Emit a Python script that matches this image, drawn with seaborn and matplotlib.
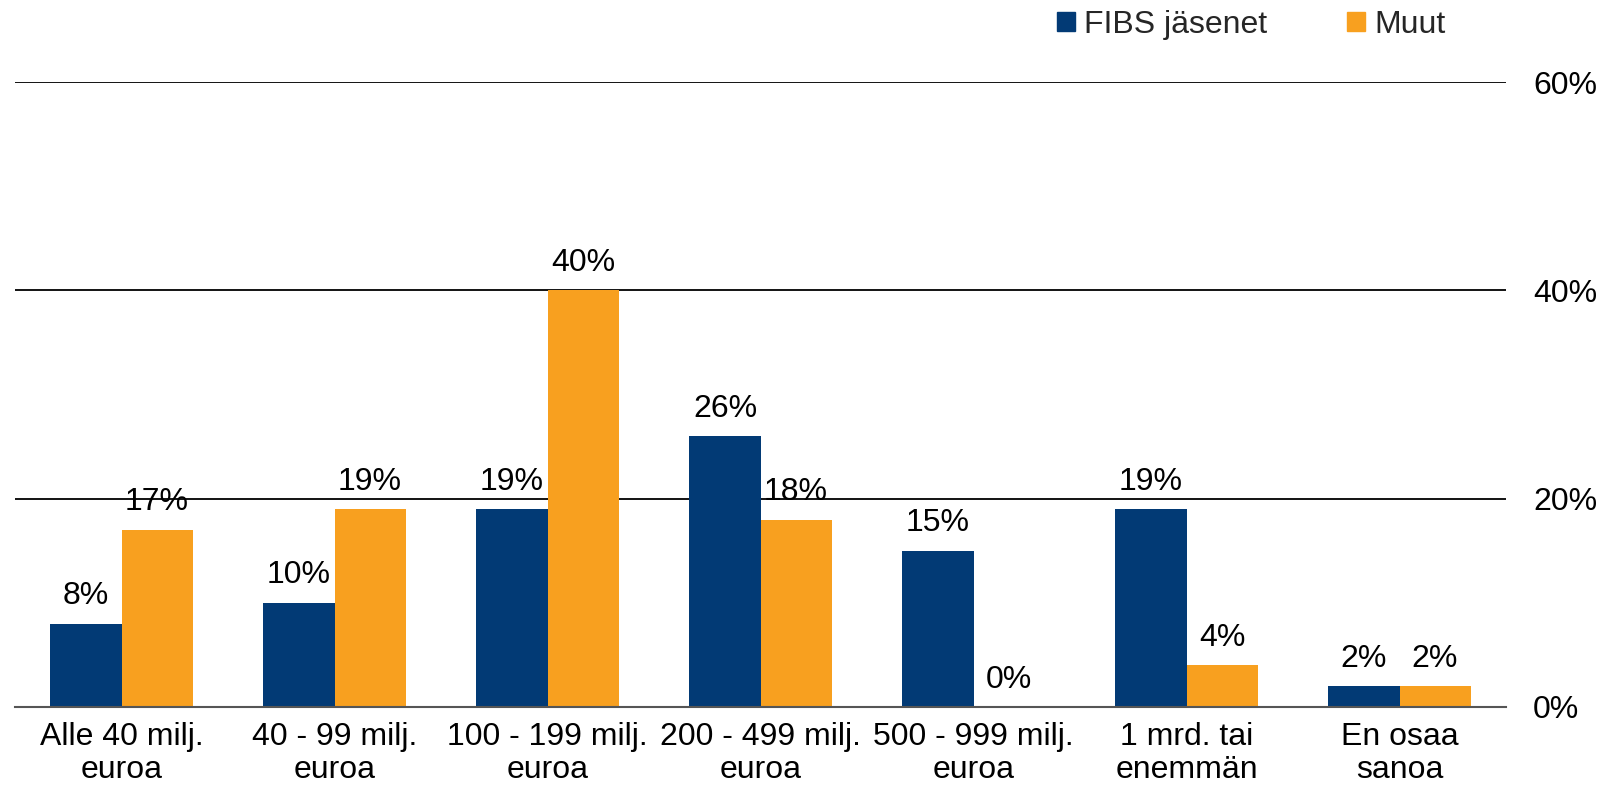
import matplotlib
matplotlib.use("Agg")
import matplotlib.pyplot as plt
import seaborn as sns
import pandas as pd
from matplotlib.ticker import FixedLocator, FuncFormatter
from matplotlib.patches import Rectangle

categories = ["Alle 40 milj.\neuroa", "40 - 99 milj.\neuroa", "100 - 199 milj.\neuroa",
              "200 - 499 milj.\neuroa", "500 - 999 milj.\neuroa", "1 mrd. tai\nenemmän",
              "En osaa\nsanoa"]
series_names = ["FIBS jäsenet", "Muut"]
fibs = [8, 10, 19, 26, 15, 19, 2]
muut = [17, 19, 40, 18, 0, 4, 2]
yticks = [0, 20, 40, 60]
colors = ["#023A75", "#F8A01F"]

df = pd.DataFrame({
    "cat": categories * 2,
    "series": [series_names[0]] * len(categories) + [series_names[1]] * len(categories),
    "value": fibs + muut,
})

sns.set_theme(style="white")
plt.rcParams["font.family"] = ["Liberation Sans", "DejaVu Sans"]
FS = 23

fig = plt.figure(figsize=(16.03, 7.88), dpi=100)
ax = fig.add_axes([15 / 1603, 1 - 707 / 788, (1506 - 15) / 1603, (707 - 82) / 788])

sns.barplot(data=df, x="cat", y="value", hue="series", order=categories,
            hue_order=series_names, palette=colors, width=0.667, gap=0,
            saturation=1, ax=ax, legend=False, linewidth=0)

ax.set_ylim(0, 60)
ax.set_xlim(-0.5, len(categories) - 0.5)
ax.yaxis.set_major_locator(FixedLocator(yticks))
ax.yaxis.set_major_formatter(FuncFormatter(lambda v, p: f"{v:.0f}%"))
ax.yaxis.tick_right()
ax.tick_params(axis="y", length=0, pad=19.5, labelsize=FS, colors="black")
for lbl in ax.get_yticklabels():
    lbl.set_horizontalalignment("left")
ax.tick_params(axis="x", length=0, pad=10.5, labelsize=FS, colors="black")
for lbl in ax.get_xticklabels():
    lbl.set_linespacing(1.15)
ax.set_xlabel("")
ax.set_ylabel("")
for y in yticks[1:]:
    ax.axhline(y, color="black", lw=1.3, zorder=0)
for s in ["top", "right", "left"]:
    ax.spines[s].set_visible(False)
ax.spines["bottom"].set_color("#555555")
ax.spines["bottom"].set_linewidth(1.5)
ax.grid(False)

for cont in ax.containers:
    ax.bar_label(cont, labels=[f"{v:.0f}%" for v in cont.datavalues], padding=9,
                 fontsize=FS, color="black")

# legend
handles = [Rectangle((0, 0), 1, 1, color=c) for c in colors]
leg = fig.legend(handles, series_names, loc="center left", bbox_to_anchor=(1057 / 1603, 1 - 25 / 788),
                 ncol=2, frameon=False, fontsize=FS, handlelength=0.55, handleheight=0.55,
                 handletextpad=0.3, columnspacing=2.5, borderpad=0, borderaxespad=0)

fig.savefig("out.png", dpi=100)
